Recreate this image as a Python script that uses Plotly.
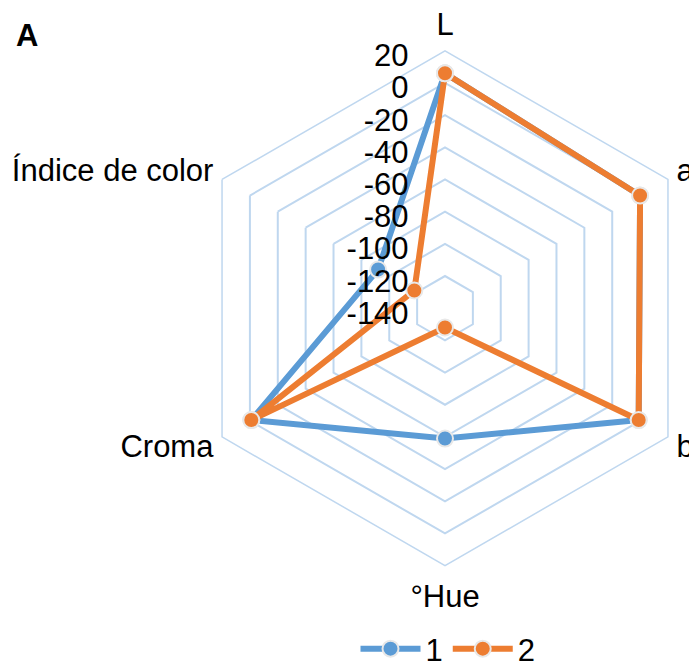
import plotly.graph_objects as go

categories = ["L", "a", "b", "°Hue", "Croma", "Índice de color"]
serie_1 = [6, 0, -1, -59, -1, -92]
serie_2 = [6, 0, -1, -128, -1, -118]
series_names = ["1", "2"]
colors = ["#5B9BD5", "#ED7D31"]

radial_ticks = list(range(-140, 21, 20))

# plotly hides markers when the radial range starts below zero with a
# linear grid, so the axis is drawn from 0 and the ticks carry the real values
R_MIN, R_MAX = -140, 20

# lower side labels sit a bit too low in plotly; an empty second line lifts them
cat_text = [c + "<br> " if c in ("b", "Croma") else c for c in categories]

W, H = 697, 668
FONT = "Liberation Sans, Arial, sans-serif"
OFF = 8  # page body margin

fig = go.Figure()

for name, values, color in zip(series_names, [serie_1, serie_2], colors):
    r = [v - R_MIN for v in values]
    fig.add_trace(
        go.Scatterpolar(
            r=r + [r[0]],
            theta=categories + [categories[0]],
            mode="lines+markers",
            name=name,
            cliponaxis=False,
            line=dict(color=color, width=6),
            marker=dict(size=16, color=color, line=dict(color="#e8e8e8", width=2)),
        )
    )

# polar centre (page px 446,310) and radius ~260
cx, cy, R = 445 - OFF, 310 - OFF, 259
fig.update_layout(
    width=W,
    height=H,
    paper_bgcolor="white",
    plot_bgcolor="white",
    margin=dict(l=0, r=0, t=0, b=0),
    font=dict(family=FONT, size=31, color="#000000"),
    polar=dict(
        domain=dict(
            x=[(cx - R) / W, min(1, (cx + R) / W)],
            y=[1 - (cy + R) / H, 1 - (cy - R) / H],
        ),
        gridshape="linear",
        bgcolor="white",
        radialaxis=dict(
            range=[0, R_MAX - R_MIN],
            tickvals=[t - R_MIN for t in radial_ticks],
            ticktext=[str(t) for t in radial_ticks],
            angle=90,
            side="counterclockwise",
            showline=False,
            ticks="outside",
            ticklen=8,
            tickcolor="rgba(0,0,0,0)",
            gridcolor="#BFD7EF",
            gridwidth=1.5,
            tickfont=dict(size=31),
        ),
        angularaxis=dict(
            rotation=90,
            direction="clockwise",
            showgrid=False,
            linecolor="#BFD7EF",
            linewidth=1.5,
            ticks="outside",
            ticklen=3,
            tickcolor="rgba(0,0,0,0)",
            tickvals=categories,
            ticktext=cat_text,
            tickfont=dict(size=31),
        ),
    ),
    showlegend=True,
    legend=dict(
        orientation="h",
        x=(448 - OFF) / W,
        xanchor="center",
        y=1 - (653 - OFF) / H,
        yanchor="middle",
        font=dict(size=31),
        itemwidth=60,
    ),
    annotations=[
        dict(
            text="<b>A</b>",
            x=(14 - OFF) / W,
            y=1 - (36 - OFF) / H,
            xref="paper",
            yref="paper",
            xanchor="left",
            yanchor="middle",
            showarrow=False,
            font=dict(size=31),
        )
    ],
)

fig.write_html("out.html")
